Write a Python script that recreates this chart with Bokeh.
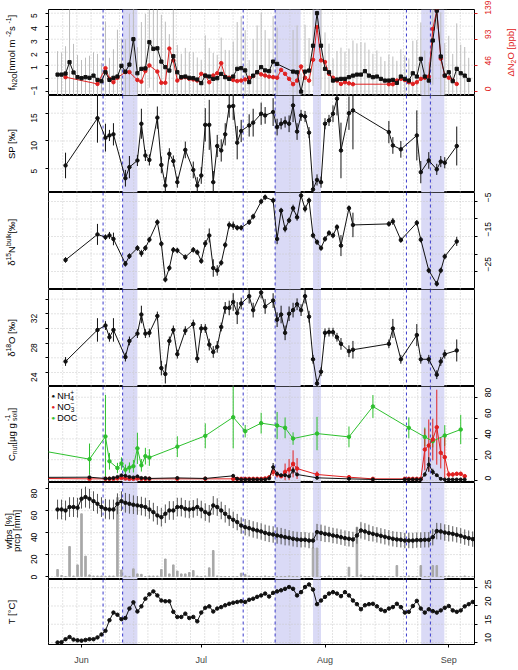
import math
from bokeh.plotting import figure
from bokeh.layouts import column, row
from bokeh.models import Range1d, LinearAxis, FixedTicker, Span, BoxAnnotation, Label
from bokeh.embed import file_html
from bokeh.resources import INLINE

FONT = "Liberation Sans"
TICK_FS = 8.5
TITLE_FS = 9.5

BLACK = "#111111"
RED = "#e02020"
GREEN = "#2ec02e"
BAND = "#dadaf6"
EVENT = "#3c3ccc"
GRID = "#c8c8c8"
ERRGREY = "#bcbcbc"
WFPS_ERR = "#555555"
PRCP = "#a8a8a8"

# ---------------- time axis (day of year) ----------------
x_lo, x_hi = 143.73, 250.45
month_ticks = [152, 182, 213, 244]
month_names = ["Jun", "Jul", "Aug", "Sep"]
event_days = [157.4, 162.3, 192.5, 200.5, 233.4, 239.4]
period_start = [162.3, 200.5, 210.0, 237.1]
period_end = [166.0, 206.9, 212.0, 242.9]
n_vgrid = 30
grid_days = [x_lo + k * (x_hi - x_lo) / n_vgrid for k in range(1, n_vgrid)]

# ---------------- N2O flux and concentration ----------------
flux_days = list(range(146, 202)) + list(range(205, 250))
f_n2o = [0.28, 0.28, 0.36, 1.23, 0.44, 0.08, 0.0, 0.08, 0.03, 0.2,
         -0.13, -0.23, 0.46, -0.13, 0.03, 0.13, 0.95, 0.5, 1.05, 3.0,
         0.38, 0.72, 0.75, 2.77, 2.26, 2.3, 1.28, 0.85, 0.59, 1.69,
         0.46, 0.08, 0.13, 0.03, 0.0, -0.1, -0.38, 0.2, 0.13, -0.05,
         0.0, 0.33, 0.08, -0.05, 0.13, 0.72, 0.77, 0.6, -0.3, 0.2,
         0.46, 0.85, 0.6, 0.54, 1.28, 1.1,
         0.51, 0.46, -1.03, 0.51, 0.59, 2.5, 5.0, 2.5, 0.72, 0.46,
         -0.18, -0.1, -0.05, -0.05, 0.08, 0.2, 0.28, 0.28, 0.54, 0.2,
         0.08, 0.13, -0.05, -0.18, -0.18, -0.13, -0.36, 0.13, -0.05, -0.18,
         0.38, 0.13, 1.49, 0.13, -0.18, 2.9, 5.2, 1.67, 0.2, 0.46,
         -0.23, 0.72, 0.38, 0.2, -0.13]
f_n2o_sd = [1.8, 1.7, 2.1, 4.5, 2.2, 1.7, 1.4, 1.5, 1.7, 1.8,
            2.0, 1.4, 3.9, 1.7, 2.2, 3.6, 2.1, 2.5, 3.9, 3.0,
            2.0, 3.6, 4.2, 3.5, 3.2, 3.4, 3.6, 3.5, 2.8, 3.8,
            2.1, 1.8, 2.2, 2.0, 2.0, 1.7, 1.8, 3.1, 2.2, 2.0,
            1.8, 2.8, 2.1, 2.2, 2.7, 3.6, 4.0, 3.1, 1.7, 2.8,
            3.6, 4.2, 3.1, 2.5, 3.5, 2.8,
            3.2, 3.6, 1.4, 3.6, 2.5, 3.1, 1.4, 3.4, 2.8, 2.2,
            1.7, 2.2, 2.4, 2.1, 2.2, 2.7, 2.4, 2.5, 2.2, 2.0,
            1.8, 2.0, 1.7, 1.5, 2.0, 1.8, 1.7, 2.1, 1.8, 1.7,
            2.5, 2.8, 2.8, 2.0, 1.4, 3.4, 1.4, 3.4, 2.5, 2.8,
            2.1, 3.5, 2.2, 2.2, 1.7]
dn2o_days = [148, 156, 158, 159, 160, 161, 163, 164, 166, 167, 168, 169, 171, 172, 173,
             174, 175, 176, 177, 178, 179, 180, 181, 182, 183, 184, 185, 186, 187, 188,
             189, 190, 191, 192, 193, 194, 195, 196, 197, 198, 199, 200, 201, 202, 203,
             204, 205, 206, 207, 208, 209, 210, 211, 212, 213, 214, 215, 216, 217, 218,
             219, 220, 229, 230, 231, 232, 233, 234, 235, 236, 237, 238, 239, 240, 241,
             242, 243, 244, 245, 246]
dn2o_ppb = [25, 13, 41, 22, 16, 24, 34, 34, 20, 17, 36, 46, 35, 15, 15,
            76, 55, 19, 24, 25, 22, 21, 19, 31, 28, 16, 28, 32, 50, 26,
            24, 20, 18, 19, 21, 24, 27, 34, 30, 28, 26, 25, 24, 38, 31,
            22, 12.5, 19, 44, 24, 19, 56, 114, 55, 52, 31, 24, 19, 13, 16,
            14, 12.5, 12.5, 12.5, 19, 22, 20, 16, 13, 16, 22, 24, 26, 111, 144,
            58, 28, 24, 19, 13]
dn2o_ticks = [0, 46, 93, 139]

# ---------------- isotopocules ----------------
iso_days = [148, 156, 158, 159, 160, 163, 164, 166, 167, 168,
            169, 171, 172, 173, 174, 175, 176, 178, 180, 181,
            182, 183, 184, 185, 186, 187, 188, 189, 190, 191,
            192, 194, 195, 197, 198, 200, 201, 202, 203, 204,
            205, 206, 207, 208, 209, 210, 211, 212, 213, 214,
            215, 216, 217, 219, 220, 229, 230, 232, 236, 237,
            239, 241, 242, 243, 246]
sp = [5.6, 14.1, 10.6, 11.0, 11.2, 3.3, 5.3, 6.5, 13.1, 7.4,
      6.6, 14.2, 5.7, 2.0, 7.7, 6.4, 2.6, 8.4, 4.8, 2.0,
      3.8, 12.9, 12.9, 2.6, 9.1, 8.3, 11.2, 16.2, 16.3, 9.7,
      11.8, 12.8, 13.3, 14.9, 14.6, 15.2, 12.5, 13.1, 13.4, 13.1,
      16.4, 11.7, 14.6, 14.4, 11.5, 1.3, 3.0, 2.6, 13.1, 13.7,
      14.9, 17.6, 8.3, 15.0, 15.5, 11.6, 9.2, 8.5, 11.0, 4.4,
      6.5, 4.9, 6.3, 6.1, 9.1]
sp_err = [2.3, 4.4, 2.5, 1.0, 2.0, 1.5, 2.0, 1.0, 2.7, 1.0,
          1.0, 2.0, 1.5, 1.5, 1.0, 1.0, 1.0, 1.5, 1.5, 1.5,
          1.5, 3.0, 4.5, 2.0, 2.0, 2.0, 2.0, 2.0, 2.5, 3.0,
          2.0, 2.0, 2.5, 2.0, 1.5, 2.5, 1.5, 1.0, 1.0, 1.5,
          3.0, 1.5, 1.0, 1.0, 1.0, 1.5, 1.0, 1.0, 1.0, 1.0,
          1.5, 3.0, 5.0, 3.0, 7.0, 2.0, 1.5, 1.5, 4.5, 2.0,
          1.5, 1.0, 1.0, 1.0, 3.5]
d15n = [-21.7, -14.4, -15.2, -14.7, -15.7, -22.8, -20.6, -18.3, -19.8, -18.3,
        -15.9, -10.9, -17.1, -27.3, -24.0, -18.8, -19.0, -20.9, -18.8, -19.5,
        -22.0, -17.0, -14.7, -24.0, -24.7, -22.5, -17.4, -11.7, -11.9, -12.5,
        -12.5, -10.9, -9.3, -5.0, -3.8, -4.7, -15.7, -7.6, -12.8, -10.4,
        -6.9, -9.5, -3.3, -7.1, -4.7, -14.7, -16.6, -18.3, -15.7, -14.0,
        -14.7, -12.3, -17.6, -6.9, -11.7, -11.4, -10.7, -16.0, -11.1, -15.9,
        -24.7, -28.5, -24.7, -20.7, -16.4]
d15n_err = [0.8, 3.0, 0.8, 1.0, 1.8, 0.8, 0.8, 0.8, 1.0, 0.8,
            0.8, 0.8, 0.8, 0.8, 0.8, 0.8, 0.8, 0.8, 0.8, 0.8,
            0.8, 1.0, 2.0, 2.5, 1.5, 0.8, 0.8, 1.0, 1.2, 0.8,
            0.8, 0.8, 0.8, 0.8, 0.8, 0.8, 1.5, 0.8, 1.0, 0.8,
            1.0, 1.0, 0.8, 1.0, 0.8, 0.8, 0.8, 0.8, 0.8, 0.8,
            0.8, 0.8, 3.0, 0.8, 3.5, 0.8, 1.0, 0.8, 0.8, 0.8,
            0.8, 0.8, 0.8, 0.8, 1.3]
d18o = [25.5, 29.8, 30.4, 28.8, 29.8, 26.1, 28.3, 29.3, 31.9, 29.3,
        29.4, 31.7, 24.6, 23.8, 28.3, 29.8, 26.5, 29.7, 30.6, 25.9,
        30.0, 30.0, 27.8, 26.8, 27.5, 30.2, 32.8, 32.8, 33.6, 32.1,
        33.4, 34.4, 32.5, 34.9, 33.0, 33.8, 31.2, 31.9, 29.4, 32.0,
        32.5, 33.3, 32.5, 34.4, 31.6, 25.8, 22.5, 24.1, 29.4, 29.5,
        29.5, 28.8, 27.9, 26.9, 27.1, 27.9, 30.0, 25.8, 29.1, 25.8,
        25.8, 23.7, 25.5, 26.5, 27.0]
d18o_err = [0.6, 1.6, 0.6, 0.6, 1.6, 0.6, 0.6, 0.6, 1.2, 0.6,
            0.6, 0.6, 1.0, 1.3, 0.6, 0.6, 0.6, 0.6, 0.6, 0.6,
            0.6, 0.6, 0.8, 0.8, 0.8, 0.6, 0.8, 1.0, 1.2, 1.5,
            0.8, 1.0, 1.0, 0.8, 1.0, 1.0, 1.0, 1.2, 1.0, 1.0,
            1.0, 0.8, 0.8, 1.0, 0.8, 0.6, 0.6, 0.6, 0.6, 0.6,
            0.6, 0.6, 0.8, 0.8, 1.2, 0.6, 1.3, 0.6, 1.5, 0.6,
            0.6, 0.6, 0.6, 0.6, 1.5]

# ---------------- soil nutrients ----------------
doc_days = [140, 154, 158, 159, 161, 162, 163, 164, 165, 166, 167, 168, 169, 176, 183,
            190, 193, 197, 201, 203, 205, 211, 219, 225, 234, 238, 240, 243, 247]
doc = [30.0, 20.5, 42.3, 18.5, 12.0, 16.3, 10.4, 12.4, 13.7, 30.9, 14.6, 23.4, 22.1, 32.5, 42.9,
       60.8, 47.4, 55.1, 52.8, 50.6, 40.3, 45.1, 41.9, 71.1, 50.6, 41.9, 37.8, 43.2, 49.0]
doc_err = [10, 15, 40, 8, 5, 6, 5, 5, 6, 15, 6, 8, 8, 10, 12,
           30, 6, 10, 13, 10, 6, 16, 10, 11, 10, 9, 6, 10, 14]
nut_days = [140, 154, 158, 159, 160, 161, 162, 163, 164, 165, 166, 167, 168, 169, 176,
            183, 190, 191, 192, 193, 194, 195, 196, 197, 198, 199, 200, 201, 202, 203,
            204, 205, 206, 211, 219, 225, 233, 234, 235, 236, 237, 238, 239, 240, 241,
            242, 243, 244, 245, 246, 247, 248]
no3 = [2.0, 1.6, 1.6, 1.6, 1.6, 2.0, 2.5, 2.0, 1.6, 1.6, 2.0, 1.6, 1.6, 1.6, 1.6,
       1.6, 1.6, 1.6, 1.6, 1.6, 1.6, 1.6, 1.6, 1.6, 2.0, 3.0, 8.3, 5.8, 4.2, 8.3,
       10.6, 16.0, 11.5, 5.8, 3.2, 1.6, 1.6, 1.6, 1.6, 1.6, 1.6, 29.8, 33.6, 39.4, 51.2,
       26.6, 22.4, 5.8, 5.8, 6.4, 6.4, 4.2]
no3_err = [1, 1, 1, 1, 1, 1, 1.5, 1, 1, 1, 1, 1, 1, 1, 1,
           1, 1, 1, 1, 1, 1, 1, 1, 1, 1, 2, 4, 3, 2, 8,
           10, 13, 10, 3, 1.5, 1, 1, 1, 1, 1, 1, 20, 25, 20, 36,
           15, 20, 3, 2, 2, 2, 1.5]
nh4 = [3.0, 3.2, 2.0, 2.0, 2.5, 3.5, 5.0, 4.5, 3.5, 3.0, 4.0, 2.5, 2.5, 2.0, 2.5,
       2.0, 4.5, 1.6, 1.0, 1.0, 1.0, 1.0, 1.0, 1.0, 1.0, 2.0, 12.8, 6.4, 5.1, 5.1,
       4.0, 9.6, 5.8, 2.6, 1.6, 1.0, 1.0, 1.0, 1.0, 1.0, 1.0, 5.8, 15.4, 8.3, 5.1,
       1.6, 1.0, 1.0, 1.0, 1.0, 1.0, 1.0]
nh4_err = [0.5, 0.5, 0.5, 0.5, 0.5, 0.5, 1, 1, 0.5, 0.5, 0.5, 0.5, 0.5, 0.5, 0.5,
           0.5, 1, 0.5, 0.5, 0.5, 0.5, 0.5, 0.5, 0.5, 0.5, 0.5, 4, 2, 1, 1,
           1, 3, 1.5, 0.5, 0.5, 0.5, 0.5, 0.5, 0.5, 0.5, 0.5, 2, 7, 3, 1,
           0.5, 0.5, 0.5, 0.5, 0.5, 0.5, 0.5]

# ---------------- daily soil moisture, rain, temperature ----------------
daily_days = list(range(146, 251))
wfps = [61.1, 61.1, 60.2, 63.3, 63.3, 62.7, 70.9, 72.4, 70.9, 68.7,
        66.3, 63.3, 61.7, 61.1, 61.1, 66.3, 68.7, 67.2, 66.3, 65.4,
        64.8, 64.2, 63.3, 61.1, 58.7, 55.7, 54.1, 57.2, 60.2, 60.2,
        63.3, 63.3, 61.7, 61.1, 61.7, 63.3, 61.1, 58.7, 57.2, 64.8,
        63.3, 60.2, 57.2, 54.1, 51.7, 49.6, 46.5, 45.0, 44.1, 42.9,
        42.0, 41.1, 39.8, 38.9, 38.3, 37.4, 36.8, 35.9, 35.3, 34.4,
        33.8, 33.5, 33.5, 32.8, 32.8, 40.5, 39.8, 38.9, 38.3, 37.4,
        36.8, 35.9, 35.0, 34.4, 33.8, 37.4, 42.0, 41.1, 39.8, 38.9,
        38.0, 37.1, 36.2, 35.3, 34.4, 33.8, 33.5, 32.8, 32.8, 32.8,
        33.2, 33.2, 33.5, 33.5, 35.9, 41.4, 41.1, 40.1, 39.5, 38.9,
        38.0, 37.1, 35.9, 35.0, 34.1]
wfps_sd = [9.0, 9.0, 9.0, 9.0, 9.0, 9.0, 9.0, 9.5, 9.0, 9.0,
           9.0, 9.0, 9.0, 9.0, 9.0, 9.5, 9.0, 9.0, 9.0, 8.5,
           8.5, 8.5, 8.5, 8.5, 8.5, 8.5, 8.5, 8.5, 8.5, 8.5,
           8.5, 8.5, 8.0, 8.0, 8.0, 8.0, 8.0, 8.0, 8.0, 8.5,
           8.0, 8.0, 8.0, 8.0, 7.5, 7.5, 7.5, 7.5, 7.5, 7.5,
           7.5, 7.5, 7.5, 7.5, 7.5, 7.5, 7.5, 7.5, 7.0, 7.0,
           7.0, 7.0, 7.0, 7.0, 7.0, 7.5, 7.5, 7.5, 7.0, 7.0,
           7.0, 7.0, 7.0, 7.0, 7.0, 7.5, 7.5, 7.5, 7.5, 7.0,
           7.0, 7.0, 7.0, 7.0, 7.0, 7.0, 7.0, 7.0, 7.0, 7.0,
           7.0, 7.0, 7.0, 7.0, 7.5, 7.5, 7.5, 7.5, 7.5, 7.0,
           7.0, 7.0, 7.0, 7.0, 7.0]
prcp = [6.4, 1.0, 0.0, 27.4, 0.5, 10.6, 57.2, 18.6, 1.5, 0.5,
        0.5, 0.5, 0.0, 0.5, 0.5, 72.0, 6.0, 0.5, 0.0, 7.0,
        2.4, 2.0, 0.0, 0.5, 0.5, 0.5, 6.4, 16.0, 2.4, 10.6,
        5.0, 2.4, 2.4, 3.6, 5.5, 0.5, 0.0, 0.5, 7.9, 23.7,
        0.5, 0.0, 0.0, 0.0, 0.0, 0.0, 3.0, 2.0, 0.5, 0.0,
        0.0, 0.0, 0.5, 0.0, 0.0, 0.0, 0.0, 0.0, 0.5, 0.0,
        0.0, 0.0, 0.0, 0.0, 26.0, 26.0, 0.0, 0.0, 0.5, 0.0,
        0.0, 0.0, 0.0, 8.5, 0.0, 45.0, 1.5, 0.0, 0.0, 0.5,
        0.0, 0.0, 0.0, 0.0, 0.0, 10.0, 0.0, 0.0, 0.5, 0.0,
        0.0, 10.0, 0.0, 0.0, 10.0, 10.0, 0.0, 0.0, 0.5, 0.0,
        0.0, 0.0, 0.5, 0.0, 0.0]
temp = [10.0, 10.1, 10.9, 11.5, 10.8, 10.6, 10.5, 10.7, 10.9, 10.9,
        11.4, 12.2, 13.2, 16.1, 18.2, 17.6, 16.4, 16.7, 19.3, 21.0,
        18.5, 19.9, 22.0, 23.2, 24.0, 22.9, 21.5, 21.3, 21.3, 18.4,
        17.0, 17.0, 17.9, 16.7, 17.0, 15.8, 18.2, 19.5, 19.9, 18.5,
        19.3, 19.7, 20.2, 20.6, 20.9, 21.1, 21.3, 21.1, 21.7, 22.0,
        22.5, 22.9, 23.4, 22.6, 23.6, 24.0, 24.3, 24.7, 25.2, 24.7,
        22.9, 23.8, 25.2, 25.9, 24.5, 20.5, 21.5, 22.5, 23.4, 23.8,
        23.4, 22.7, 23.8, 22.9, 21.5, 20.5, 19.1, 20.2, 20.5, 20.6,
        19.9, 19.0, 18.6, 19.3, 19.7, 20.6, 19.7, 18.2, 18.4, 20.0,
        21.4, 19.3, 18.2, 19.1, 18.6, 18.2, 18.8, 19.5, 20.0, 18.8,
        18.4, 18.8, 19.9, 20.5, 21.1]

# ---------------- layout ----------------
# each row: [title strip | panel | right title strip]
LW, RW = 22, 16
PW = 518 - LW - RW
P_LEFT, P_RIGHT = 48 - LW, 518 - 474 - RW
xr = Range1d(x_lo, x_hi)

# Helvetica advance widths (1/1000 em) for composing rich labels
CW = {" ": 278, "[": 278, "]": 278, "-": 333, "%": 889, "‰": 1000, "°": 400,
      "µ": 556, "δ": 556, "Δ": 668, "+": 584, "−": 584}
CW.update({d: 556 for d in "0123456789"})
CW.update(dict(zip("abcdefghijklmnopqrstuvwxyz",
                   [556, 556, 500, 556, 556, 278, 556, 556, 222, 222, 500, 222, 833,
                    556, 556, 556, 556, 333, 500, 278, 556, 500, 722, 500, 500, 500])))
CW.update(dict(zip("ABCDEFGHIJKLMNOPQRSTUVWXYZ",
                   [667, 667, 722, 722, 667, 611, 778, 722, 278, 500, 667, 556, 833,
                    722, 778, 667, 778, 722, 667, 611, 722, 667, 944, 667, 667, 611])))


def text_w(s, fs):
    return sum(CW.get(c, 556) for c in s) * fs / 1000.0


def rich(p, parts, x, y, fs, color="black", vertical=True, center=True):
    """Place text made of normal / sub / sup pieces, in screen units of the frame."""
    small = fs * 0.72
    items, pos = [], 0.0
    for txt, role in parts:
        if role == "n":
            items.append((txt, fs, 0.0, pos)); pos += text_w(txt, fs)
        elif role == "sub":
            items.append((txt, small, -0.28 * fs, pos)); pos += text_w(txt, small)
        elif role == "sup":
            items.append((txt, small, 0.36 * fs, pos)); pos += text_w(txt, small)
        else:  # stacked sub + sup
            lo, hi = txt
            items.append((lo, small, -0.30 * fs, pos))
            items.append((hi, small, 0.38 * fs, pos))
            pos += max(text_w(lo, small), text_w(hi, small))
    start = -pos / 2.0 if center else 0.0
    for txt, size, shift, off in items:
        if vertical:
            lx, ly, ang = x - shift, y + start + off, math.pi / 2
        else:
            lx, ly, ang = x + start + off, y + shift, 0.0
        p.add_layout(Label(x=lx, y=ly, x_units="screen", y_units="screen", text=txt,
                           angle=ang, text_font=FONT, text_font_size=f"{size:.2f}px",
                           text_color=color, text_align="left", text_baseline="middle"))


def strip(width, height):
    s = figure(width=width, height=height, x_range=Range1d(0, 1), y_range=Range1d(0, 1),
               x_axis_location=None, y_axis_location=None, toolbar_location=None,
               output_backend="svg", min_border=0, outline_line_color=None)
    s.xgrid.visible = False
    s.ygrid.visible = False
    return s


def panel(frame_h, y_lo, y_hi, grid_y, top=0, bottom=0):
    p = figure(width=PW, height=frame_h + top + bottom, x_range=xr,
               y_range=Range1d(y_lo, y_hi), x_axis_location=None, y_axis_location=None,
               toolbar_location=None, output_backend="svg",
               min_border_left=P_LEFT, min_border_right=P_RIGHT,
               min_border_top=top, min_border_bottom=bottom)
    p.xgrid.visible = False
    p.ygrid.visible = False
    p.outline_line_color = "black"
    p.outline_line_alpha = 1.0
    p.outline_line_width = 1
    p.background_fill_color = "white"
    p.border_fill_color = "white"
    for a, b in zip(period_start, period_end):
        p.add_layout(BoxAnnotation(left=a, right=b, fill_color=BAND, fill_alpha=1.0,
                                   line_color=None, level="underlay"))
    for g in grid_days:
        p.add_layout(Span(location=g, dimension="height", line_color=GRID,
                          line_dash="1 2", line_width=1, level="underlay"))
    for g in grid_y:
        p.add_layout(Span(location=g, dimension="width", line_color=GRID,
                          line_dash="1 2", line_width=1, level="underlay"))
    for e in event_days:
        p.add_layout(Span(location=e, dimension="height", line_color=EVENT,
                          line_dash="3 3", line_width=1, level="underlay"))
    # the strips' frames line up with the panel frame inside a row
    left = strip(LW, frame_h + top + bottom)
    right = strip(RW, frame_h + top + bottom)
    mid = frame_h / 2.0
    return p, left, right, mid


def yaxis(p, side, ticks, hide=(), color="black", range_name="default"):
    ax = LinearAxis(ticker=FixedTicker(ticks=ticks), y_range_name=range_name)
    ax.axis_line_color = None
    ax.major_tick_line_color = color
    ax.major_tick_in = 0
    ax.major_tick_out = 3
    ax.minor_tick_line_color = None
    ax.major_label_text_color = color
    ax.major_label_text_font = FONT
    ax.major_label_text_font_size = f"{TICK_FS}px"
    ax.major_label_orientation = math.pi / 2
    ax.major_label_standoff = 11
    if hide:
        ax.major_label_overrides = {t: "" for t in hide}
    p.add_layout(ax, side)


def errbars(p, xs, ys, es, color, width=1, **kw):
    lo = [y - e for y, e in zip(ys, es)]
    hi = [y + e for y, e in zip(ys, es)]
    p.segment(x0=xs, y0=lo, x1=xs, y1=hi, line_color=color, line_width=width, **kw)


TITLE_X = 11

# 1) N2O flux (left) and N2O concentration excess (right)
f_lo, f_hi = -1.33, 5.285
p1, l1, r1, m1 = panel(86, f_lo, f_hi, [-1, 0, 1, 2, 3, 4, 5], top=9)
p1.extra_y_ranges = {"dn2o": Range1d((f_lo + 1) * 139 / 6, (f_hi + 1) * 139 / 6)}
errbars(p1, flux_days, f_n2o, f_n2o_sd, ERRGREY)
p1.line(dn2o_days, dn2o_ppb, y_range_name="dn2o", line_color=RED, line_width=1)
p1.scatter(dn2o_days, dn2o_ppb, y_range_name="dn2o", size=3.5, color=RED)
p1.line(flux_days, f_n2o, line_color=BLACK, line_width=1)
p1.scatter(flux_days, f_n2o, marker="square", size=3.2, color=BLACK)
yaxis(p1, "left", [-1, 0, 1, 2, 3, 4, 5], hide=(0,))
yaxis(p1, "right", dn2o_ticks, color=RED, range_name="dn2o")
rich(l1, [("f", "n"), ("N2O", "sub"), (" [nmol m", "n"), ("-2", "sup"), (" s", "n"),
          ("-1", "sup"), ("]", "n")], TITLE_X, m1, TITLE_FS)
rich(r1, [("ΔN", "n"), ("2", "sub"), ("O [ppb]", "n")], 8, m1, TITLE_FS, color=RED)

# 2) site preference
p2, l2, r2, m2 = panel(97, 0.74, 18.18, [5, 10, 15])
errbars(p2, iso_days, sp, sp_err, BLACK)
p2.line(iso_days, sp, line_color=BLACK)
p2.scatter(iso_days, sp, size=3.5, color=BLACK)
yaxis(p2, "left", [5, 10, 15])
rich(l2, [("SP [‰]", "n")], TITLE_X, m2, TITLE_FS)

# 3) bulk d15N
p3, l3, r3, m3 = panel(97, -30.14, -2.43, [-25, -20, -15, -10, -5])
errbars(p3, iso_days, d15n, d15n_err, BLACK)
p3.line(iso_days, d15n, line_color=BLACK)
p3.scatter(iso_days, d15n, size=3.5, color=BLACK)
yaxis(p3, "right", [-25, -20, -15, -10, -5], hide=(-20, -10))
rich(l3, [("δ", "n"), ("15", "sup"), ("N", "n"), ("bulk", "sup"), (" [‰]", "n")],
     TITLE_X, m3, TITLE_FS)

# 4) d18O
p4, l4, r4, m4 = panel(97, 22.09, 35.31, [24, 26, 28, 30, 32, 34])
errbars(p4, iso_days, d18o, d18o_err, BLACK)
p4.line(iso_days, d18o, line_color=BLACK)
p4.scatter(iso_days, d18o, size=3.5, color=BLACK)
yaxis(p4, "left", [24, 26, 28, 30, 32, 34], hide=(26, 30, 34))
rich(l4, [("δ", "n"), ("18", "sup"), ("O [‰]", "n")], TITLE_X, m4, TITLE_FS)

# 5) soil nutrients
p5, l5, r5, m5 = panel(96, -1.9, 90.3, [0, 20, 40, 60, 80])
errbars(p5, doc_days, doc, doc_err, GREEN)
errbars(p5, nut_days, no3, no3_err, RED)
errbars(p5, nut_days, nh4, nh4_err, BLACK)
p5.line(doc_days, doc, line_color=GREEN)
p5.scatter(doc_days, doc, size=3.5, color=GREEN)
p5.line(nut_days, no3, line_color=RED)
p5.scatter(nut_days, no3, size=3.5, color=RED)
p5.line(nut_days, nh4, line_color=BLACK)
p5.scatter(nut_days, nh4, size=3.0, color=BLACK)
yaxis(p5, "right", [0, 20, 40, 60, 80])
rich(l5, [("C", "n"), ("nut", "sub"), (" [µg g", "n"), (("soil", "-1"), "subsup"), ("]", "n")],
     TITLE_X, m5, TITLE_FS)
legend_rows = [("NH", "4", "+", BLACK), ("NO", "3", "−", RED), ("DOC", None, None, GREEN)]
for i, (name, lo, hi, col) in enumerate(legend_rows):
    yy = 87 - 11.2 * i
    p5.add_layout(Label(x=4.7, y=yy, x_units="screen", y_units="screen", text="●",
                        text_font=FONT, text_font_size="6px", text_color=col,
                        text_align="center", text_baseline="middle"))
    parts = [(name, "n")] if lo is None else [(name, "n"), ((lo, hi), "subsup")]
    rich(p5, parts, 8.7, yy, 9, vertical=False, center=False)

# 6) soil moisture and precipitation
p6, l6, r6, m6 = panel(97, -2.7, 85.7, [0, 20, 40, 60, 80])
p6.vbar(x=daily_days, top=prcp, bottom=0, width=0.4, color=PRCP)
errbars(p6, daily_days, wfps, wfps_sd, WFPS_ERR)
p6.line(daily_days, wfps, line_color=BLACK)
p6.scatter(daily_days, wfps, size=3.5, color=BLACK)
yaxis(p6, "left", [0, 20, 40, 60, 80])
rich(l6, [("wfps [%]", "n")], 7.5, m6, TITLE_FS)
rich(l6, [("prcp [mm]", "n")], 16, m6, TITLE_FS)

# 7) soil temperature
p7, l7, r7, m7 = panel(65, 9.45, 27.26, [10, 15, 20, 25], bottom=26)
p7.line(daily_days, temp, line_color=BLACK)
p7.scatter(daily_days, temp, size=3.5, color=BLACK)
yaxis(p7, "right", [10, 15, 20, 25])
rich(l7, [("T [°C]", "n")], TITLE_X, m7, TITLE_FS)
xa = LinearAxis(ticker=FixedTicker(ticks=month_ticks),
                major_label_overrides=dict(zip(month_ticks, month_names)))
xa.axis_line_color = "black"
xa.major_tick_out = 3
xa.major_tick_in = 0
xa.minor_tick_line_color = None
xa.major_label_text_font = FONT
xa.major_label_text_font_size = "9px"
xa.major_label_standoff = 7
p7.add_layout(xa, "below")

rows = [row(l, p, r, spacing=0) for l, p, r in
        [(l1, p1, r1), (l2, p2, r2), (l3, p3, r3), (l4, p4, r4),
         (l5, p5, r5), (l6, p6, r6), (l7, p7, r7)]]
layout = column(*rows, spacing=0)
open("out.html", "w").write(file_html(layout, INLINE))
